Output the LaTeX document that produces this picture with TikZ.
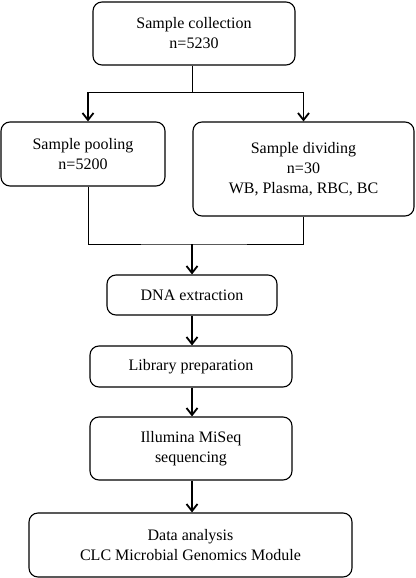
\documentclass[tikz,border=0pt]{standalone}
\usepackage{fontspec}
\setmainfont{Liberation Serif}
\usetikzlibrary{arrows.meta, positioning}

\begin{document}
\begin{tikzpicture}[x=1pt, y=-1pt, >={Straight Barb[length=7pt,width=11pt]},
    stage/.style={draw, line width=1.1pt, rounded corners=9pt, align=center,
      inner sep=0pt, font=\fontsize{16}{20}\selectfont},
    link/.style={line width=0.9pt},
    flow/.style={line width=1.8pt, ->}]
  \useasboundingbox (0,0) rectangle (415,578);
  \node[stage, minimum width=202pt, minimum height=63pt] (coll) at (194,33.5) {Sample collection\\n=5230};
  \node[stage, minimum width=164pt, minimum height=64pt] (pool) at (83,154) {Sample pooling\\n=5200};
  \node[stage, minimum width=221pt, minimum height=94pt] (divide) at (303.5,169) {Sample dividing\\n=30\\WB, Plasma, RBC, BC};
  \node[stage, minimum width=170pt, minimum height=40pt] (dna) at (192,295) {DNA extraction};
  \node[stage, minimum width=202pt, minimum height=41pt] (lib) at (191,366.5) {Library preparation};
  \node[stage, minimum width=202pt, minimum height=63pt] (ill) at (191,448.5) {Illumina MiSeq\\sequencing};
  \node[stage, minimum width=323pt, minimum height=64pt] (data) at (190.5,545) {Data analysis\\CLC Microbial Genomics Module};
  % fork and join
  \coordinate (fork) at (192,92);
  \coordinate (join) at (192,244);
  \draw[link] (coll.south -| fork) -- (fork);
  \draw[link] ([xshift=5pt]pool.north |- fork) -- (divide.north |- fork);
  \draw[flow] ([xshift=5pt]pool.north |- fork) -- ([xshift=5pt]pool.north);
  \draw[flow] (divide.north |- fork) -- (divide.north);
  \draw[link] ([xshift=5pt]pool.south) |- (join) -| (divide.south);
  \draw[flow] (join) -- (dna.north -| join);
  \draw[flow] (dna.south -| join) -- (lib.north -| join);
  \draw[flow] (lib.south -| join) -- (ill.north -| join);
  \draw[flow] (ill.south -| join) -- (data.north -| join);
\end{tikzpicture}
\end{document}
